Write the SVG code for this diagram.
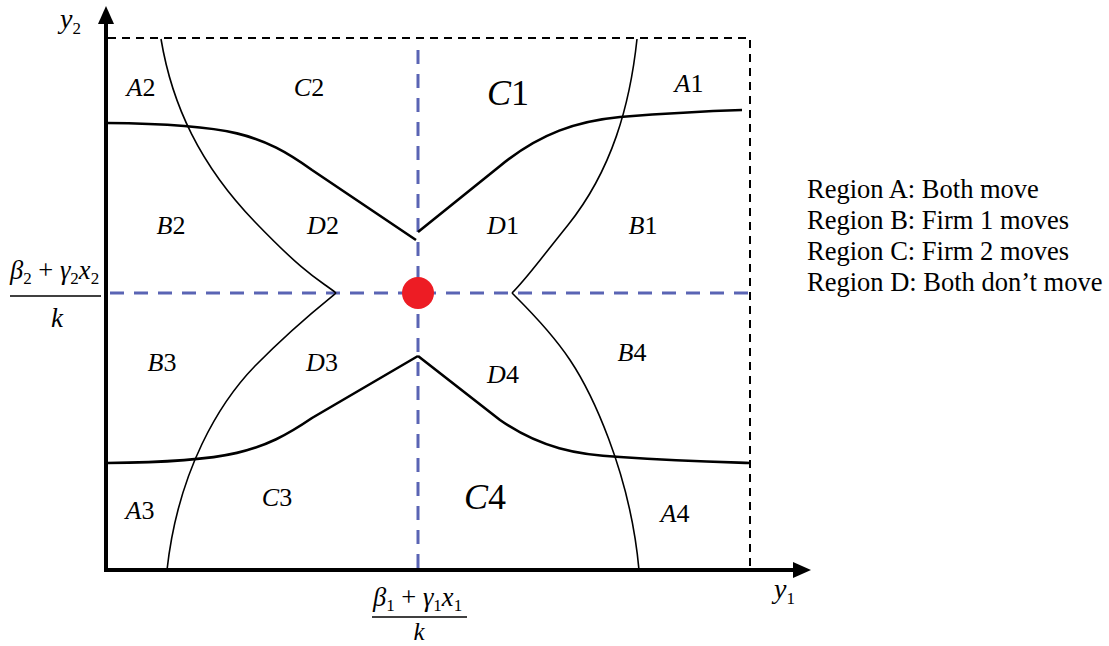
<svg xmlns="http://www.w3.org/2000/svg" width="1109" height="646" viewBox="0 0 1109 646">
<style>
text{font-family:"Liberation Serif","Times New Roman",serif;fill:#000}
.lbl{font-size:26px;text-anchor:middle}
.big{font-size:36px;text-anchor:middle}
.it{font-style:italic}
.leg{font-size:26.5px}
.thick{fill:none;stroke:#000;stroke-width:2.6}
.thin{fill:none;stroke:#000;stroke-width:1.6}
.blue{fill:none;stroke:#5a64b4;stroke-width:3;stroke-dasharray:14 10}
.bdash{fill:none;stroke:#000;stroke-width:2;stroke-dasharray:8 6}
.sub{font-size:17px}
</style>
<g id="axes">
<line x1="106" y1="571" x2="106" y2="20" stroke="#000" stroke-width="4"/>
<polygon points="106,6 98,24 114,24" fill="#000"/>
<line x1="104" y1="570" x2="796" y2="570" stroke="#000" stroke-width="4"/>
<polygon points="811,570 793,562 793,578" fill="#000"/>
<text x="60" y="28" font-size="28" class="it">y<tspan class="sub" font-style="normal" dy="6">2</tspan></text>
<text x="774" y="598" font-size="28" class="it">y<tspan class="sub" font-style="normal" dy="6">1</tspan></text>
</g>
<g id="border">
<path class="bdash" d="M108,38 H750 V570"/>
</g>
<g id="connectors">
<line class="blue" x1="418" y1="50" x2="418" y2="570"/>
<line class="blue" x1="110" y1="293" x2="750" y2="293"/>
<path class="thick" d="M107,123 C 230,124 262,134 312,170 L 416,240"/>
<path class="thick" d="M418,232 L 500,166 C 540,133 578,121 620,117 C 670,113 710,111 742,110"/>
<path class="thick" d="M107,463 C 230,462 262,452 312,418 L 418,356"/>
<path class="thick" d="M418,356 L 500,420 C 540,448 578,455 620,457 C 680,461 720,462 750,463"/>
<path class="thin" d="M161,39 C 172,105 200,165 255,222 S 320,280 336,293"/>
<path class="thin" d="M336,293 C 320,306 290,330 255,366 S 178,470 167,570"/>
<path class="thin" d="M637,39 C 630,105 612,170 568,225 S 525,280 512,293"/>
<path class="thin" d="M512,293 C 525,306 550,330 570,360 S 630,470 639,570"/>
</g>
<g id="equilibrium"><circle cx="418" cy="293" r="16" fill="#ed1c24"/></g>
<g id="labels">
<text class="lbl" x="141" y="96"><tspan class="it">A</tspan>2</text>
<text class="lbl" x="309" y="96"><tspan class="it">C</tspan>2</text>
<text class="big" x="508" y="105"><tspan class="it">C</tspan>1</text>
<text class="lbl" x="689" y="92"><tspan class="it">A</tspan>1</text>
<text class="lbl" x="171" y="234"><tspan class="it">B</tspan>2</text>
<text class="lbl" x="323" y="234"><tspan class="it">D</tspan>2</text>
<text class="lbl" x="503" y="234"><tspan class="it">D</tspan>1</text>
<text class="lbl" x="643" y="234"><tspan class="it">B</tspan>1</text>
<text class="lbl" x="162" y="371"><tspan class="it">B</tspan>3</text>
<text class="lbl" x="322" y="371"><tspan class="it">D</tspan>3</text>
<text class="lbl" x="503" y="383"><tspan class="it">D</tspan>4</text>
<text class="lbl" x="632" y="361"><tspan class="it">B</tspan>4</text>
<text class="lbl" x="140" y="519"><tspan class="it">A</tspan>3</text>
<text class="lbl" x="277" y="506"><tspan class="it">C</tspan>3</text>
<text class="big" x="485" y="509"><tspan class="it">C</tspan>4</text>
<text class="lbl" x="675" y="522"><tspan class="it">A</tspan>4</text>
</g>
<g id="frac-y2">
<text x="10" y="279" font-size="26.5"><tspan class="it">β</tspan><tspan class="sub" dy="5">2</tspan><tspan dy="-5"> + </tspan><tspan class="it">γ</tspan><tspan class="sub" dy="5">2</tspan><tspan class="it" dy="-5">x</tspan><tspan class="sub" dy="5">2</tspan></text>
<line x1="10" y1="296" x2="101" y2="296" stroke="#000" stroke-width="1.5"/>
<text x="57" y="327" font-size="27" class="it" text-anchor="middle">k</text>
</g>
<g id="frac-y1">
<text x="373" y="606" font-size="26.5"><tspan class="it">β</tspan><tspan class="sub" dy="5">1</tspan><tspan dy="-5"> + </tspan><tspan class="it">γ</tspan><tspan class="sub" dy="5">1</tspan><tspan class="it" dy="-5">x</tspan><tspan class="sub" dy="5">1</tspan></text>
<line x1="372" y1="617" x2="467" y2="617" stroke="#000" stroke-width="1.5"/>
<text x="419" y="640" font-size="25" class="it" text-anchor="middle">k</text>
</g>
<g id="legend">
<text class="leg" x="807" y="198">Region A: Both move</text>
<text class="leg" x="807" y="229">Region B: Firm 1 moves</text>
<text class="leg" x="807" y="260">Region C: Firm 2 moves</text>
<text class="leg" x="807" y="291">Region D: Both don’t move</text>
</g>
</svg>
